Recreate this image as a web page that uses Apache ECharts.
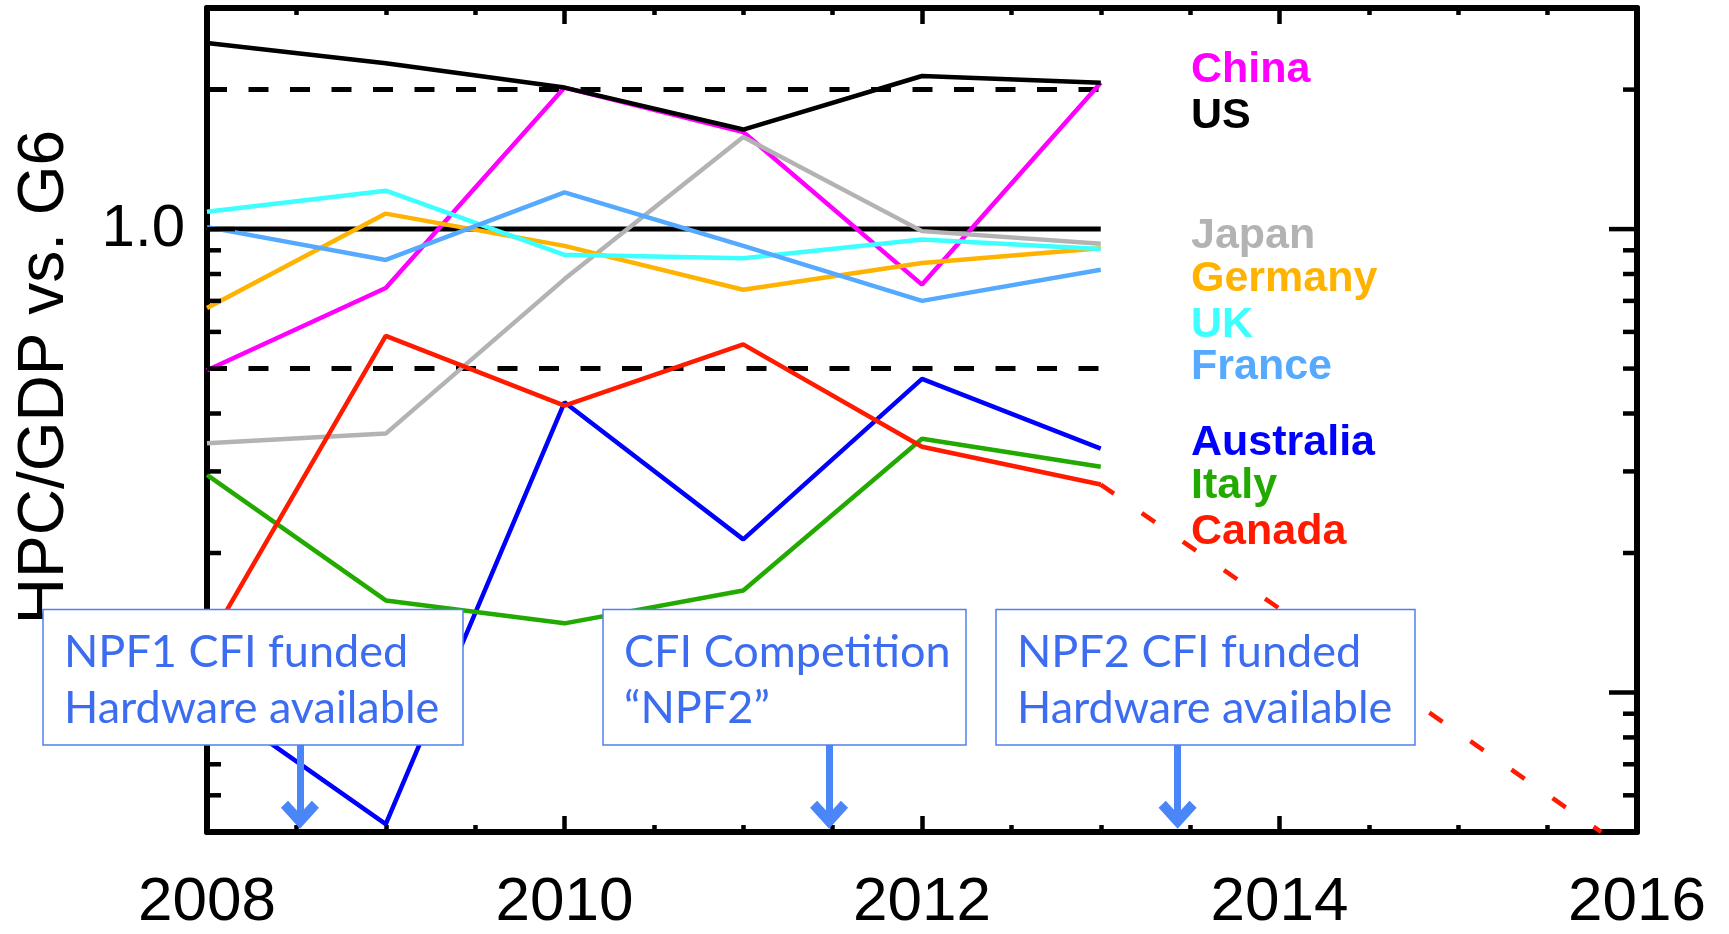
<!DOCTYPE html>
<html>
<head>
<meta charset="utf-8">
<title>HPC/GDP vs. G6</title>
<script src="https://cdn.jsdelivr.net/npm/echarts@6.0.0/dist/echarts.min.js"></script>
<style>
	html, body { margin: 0; padding: 0; background: #fff; }
	#chart { width: 1729px; height: 934px; }
</style>
</head>
<body>
<div id="chart"></div>
<script>
// data
const years = [2008, 2009, 2010, 2011, 2012, 2013];
const china = [0.496, 0.746, 2.02, 1.62, 0.759, 2.07];
const us = [2.52, 2.28, 2.02, 1.64, 2.14, 2.07];
const japan = [0.345, 0.362, 0.78, 1.58, 0.99, 0.93];
const germany = [0.676, 1.08, 0.92, 0.74, 0.845, 0.909];
const uk = [1.09, 1.21, 0.88, 0.865, 0.95, 0.906];
const france = [1.01, 0.858, 1.2, 0.92, 0.70, 0.817];
const australia = [0.097, 0.052, 0.423, 0.214, 0.475, 0.336];
const italy = [0.295, 0.158, 0.141, 0.166, 0.353, 0.307];
const canada = [0.127, 0.588, 0.416, 0.564, 0.339, 0.281];

// canada extrapolation (dashed)
const canadaTrendYears = [2013, 2015.8];
const canadaTrend = [0.281, 0.05];

// reference levels
const refYears = [2008, 2013];
const refSolid = 1.0;
const refDashed = [2.0, 0.5];

// axis
const yTickValues = [0.06, 0.07, 0.08, 0.09, 0.1, 0.2, 0.3, 0.4, 0.5, 0.6, 0.7, 0.8, 0.9, 1, 2];
const yMajor = [0.1, 1];

// annotations
const arrowYears = [2008.52, 2011.48, 2013.43];
const arrowFrom = 0.079;
const arrowTo = 0.0545;
const notes = [
	"NPF1 CFI funded\nHardware available",
	"CFI Competition\n\u201cNPF2\u201d",
	"NPF2 CFI funded\nHardware available"
];

const countries = [
	{ name: "China", values: china, color: "#ff00ff" },
	{ name: "US", values: us, color: "#000000" },
	{ name: "Japan", values: japan, color: "#b3b3b3" },
	{ name: "Germany", values: germany, color: "#ffb300" },
	{ name: "UK", values: uk, color: "#3dffff" },
	{ name: "France", values: france, color: "#55aaff" },
	{ name: "Australia", values: australia, color: "#0000ff" },
	{ name: "Italy", values: italy, color: "#22aa00" },
	{ name: "Canada", values: canada, color: "#ff1a00" }
];

// layout
const labelY = [70, 116, 236, 279, 325, 367, 443, 486, 532];
const boxLeft = [43, 603, 996];
const boxWidth = [420, 363, 419];
const noteBlue = "#3c6cf0";
const boxBlue = "#4f80f0";
const arrowBlue = "#4a86f7";

let chart = echarts.init(document.getElementById("chart"));

function pairs(xs, ys) {
	return xs.map(function(x, i) {
		return [x, ys[i]];
	});
}

let series = [];

series.push({
	name: "ref1",
	type: "line",
	data: pairs(refYears, [refSolid, refSolid]),
	symbol: "none",
	lineStyle: { color: "#000", width: 5 },
	z: 1,
	silent: true,
	markLine: {
		silent: true,
		symbol: ["none", "path://M0,12 L12,0 L24,12 L19.5,16 L12,8.5 L4.5,16 Z"],
		symbolSize: [38, 28],
		lineStyle: { color: arrowBlue, width: 7, type: "solid" },
		label: { show: false },
		emphasis: { disabled: true },
		data: arrowYears.map(function(x) {
			return [{ coord: [x, arrowFrom] }, { coord: [x, arrowTo] }];
		})
	}
});

refDashed.forEach(function(v) {
	series.push({
		type: "line",
		data: pairs(refYears, [v, v]),
		symbol: "none",
		lineStyle: { color: "#000", width: 5, type: [20, 21.5] },
		z: 1,
		silent: true
	});
});

countries.forEach(function(c) {
	series.push({
		name: c.name,
		type: "line",
		data: pairs(years, c.values),
		symbol: "none",
		lineStyle: { color: c.color, width: 4.5 },
		z: 2
	});
});

series.push({
	name: "Canada trend",
	type: "line",
	data: pairs(canadaTrendYears, canadaTrend),
	symbol: "none",
	lineStyle: { color: "#ff1a00", width: 4.5, type: [16, 34] },
	z: 2
});

// y ticks on both sides, placed through the log axis
series.push({
	type: "custom",
	silent: true,
	z: 3,
	data: yTickValues.map(function(v) {
		return [2008, v];
	}),
	renderItem: function(params, api) {
		let v = api.value(1);
		let p = api.coord([2008, v]);
		let cs = params.coordSys;
		let len = yMajor.indexOf(v) >= 0 ? 28 : 14;
		let st = { stroke: "#000", lineWidth: 4.5 };
		return {
			type: "group",
			children: [
				{ type: "line", shape: { x1: cs.x, y1: p[1], x2: cs.x + len, y2: p[1] }, style: st },
				{ type: "line", shape: { x1: cs.x + cs.width, y1: p[1], x2: cs.x + cs.width - len, y2: p[1] }, style: st }
			]
		};
	}
});

let graphic = [];

graphic.push({
	type: "text",
	x: 45,
	y: 377,
	rotation: Math.PI / 2,
	z: 50,
	style: {
		text: "HPC/GDP vs. G6",
		fill: "#000",
		font: '64px "Liberation Sans"',
		align: "center",
		verticalAlign: "middle"
	}
});

countries.forEach(function(c, i) {
	graphic.push({
		type: "text",
		x: 1191,
		y: labelY[i],
		z: 50,
		style: {
			text: c.name,
			fill: c.color,
			font: 'bold 43px "Liberation Sans"',
			align: "left",
			verticalAlign: "middle"
		}
	});
});

notes.forEach(function(t, i) {
	graphic.push({
		type: "rect",
		z: 100,
		shape: { x: boxLeft[i], y: 609.5, width: boxWidth[i], height: 135.5 },
		style: { fill: "#fff", stroke: boxBlue, lineWidth: 1.5 }
	});
	graphic.push({
		type: "text",
		z: 101,
		x: boxLeft[i] + 21,
		y: 624,
		style: {
			text: t,
			fill: noteBlue,
			font: '45px Lato',
			lineHeight: 56,
			align: "left",
			verticalAlign: "top"
		}
	});
});

function xAxisOf(pos, showLabel) {
	return {
		type: "value",
		position: pos,
		min: 2008,
		max: 2016,
		interval: 2,
		splitLine: { show: false },
		axisLine: { show: true, onZero: false, lineStyle: { color: "#000", width: 6 } },
		axisTick: { show: true, inside: true, length: 16, lineStyle: { color: "#000", width: 4.5 } },
		minorTick: { show: true, splitNumber: 4, length: 7, lineStyle: { color: "#000", width: 4.5 } },
		axisLabel: {
			show: showLabel,
			margin: 40,
			color: "#000",
			fontFamily: "Liberation Sans",
			fontSize: 62,
			formatter: function(v) {
				return String(v);
			}
		}
	};
}

function yAxisOf(pos, showLabel) {
	return {
		type: "log",
		logBase: 10,
		position: pos,
		min: 0.05,
		max: 3,
		splitLine: { show: false },
		axisLine: { show: true, onZero: false, lineStyle: { color: "#000", width: 6 } },
		axisTick: { show: false },
		minorTick: { show: false },
		axisLabel: {
			show: showLabel,
			margin: 22,
			color: "#000",
			fontFamily: "Liberation Sans",
			fontSize: 60,
			padding: [14, 0, 0, 0],
			formatter: function(v) {
				return Math.abs(v - 1) < 1e-6 ? "1.0" : "";
			}
		}
	};
}

let option = {
	animation: false,
	backgroundColor: "#fff",
	grid: { left: 207, right: 92, top: 8, bottom: 96, containLabel: false },
	xAxis: [xAxisOf("bottom", true), xAxisOf("top", false)],
	yAxis: [yAxisOf("left", true), yAxisOf("right", false)],
	series: series,
	graphic: graphic
};

chart.setOption(option);
</script>
</body>
</html>
